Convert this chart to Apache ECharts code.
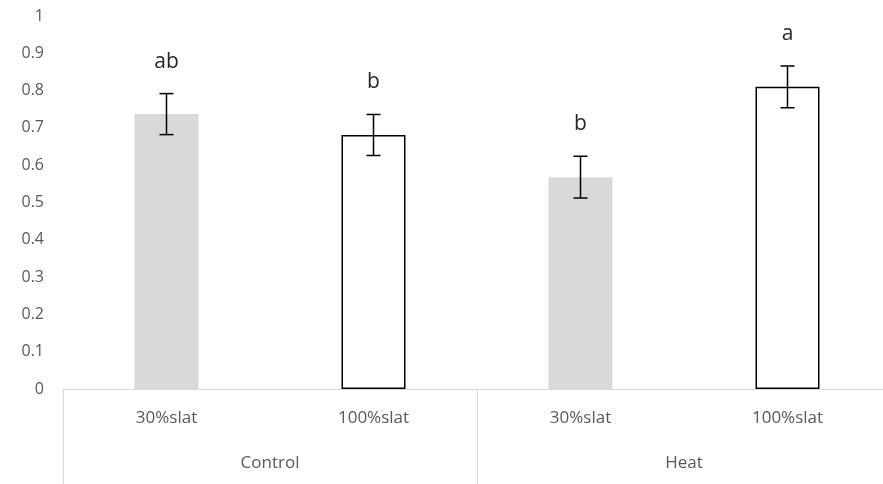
<!DOCTYPE html>
<html>
<head>
<meta charset="utf-8">
<script src="https://cdn.jsdelivr.net/npm/echarts@6/dist/echarts.min.js"></script>
<style>html,body{margin:0;padding:0;background:#fff;}#c{width:883px;height:484px;}</style>
</head>
<body>
<div id="c"></div>
<script>
const categories = ['30%slat', '100%slat', '30%slat', '100%slat'];
const groups = ['Control', 'Heat'];
const means = [0.737, 0.681, 0.568, 0.810];
const errors = [0.055, 0.055, 0.056, 0.056];
const letters = ['ab', 'b', 'b', 'a'];
const yTicks = [0, 0.1, 0.2, 0.3, 0.4, 0.5, 0.6, 0.7, 0.8, 0.9, 1];

const fillColors = ['#d9d9d9', '#ffffff', '#d9d9d9', '#ffffff'];
const borderColors = ['#d9d9d9', '#000000', '#d9d9d9', '#000000'];
const font = '"Open Sans", "Noto Sans", sans-serif';

const chart = echarts.init(document.getElementById('c'));
chart.setOption({
  animation: false,
  grid: { left: 63, right: -8, top: 16, bottom: 95, outerBoundsMode: 'none', containLabel: false },
  xAxis: [
    {
      type: 'category', data: categories, position: 'bottom',
      axisLine: { show: true, lineStyle: { color: '#d9d9d9', width: 1 } },
      axisTick: { show: false },
      axisLabel: { color: '#595959', fontSize: 17, margin: 21, fontFamily: font }
    },
    {
      type: 'category', data: groups, position: 'bottom',
      axisLine: { show: false },
      axisTick: { show: true, length: 96, lineStyle: { color: '#d9d9d9', width: 1 } },
      axisLabel: { color: '#595959', fontSize: 17, margin: 66, fontFamily: font }
    }
  ],
  yAxis: {
    type: 'value', min: 0, max: 1, interval: 0.1,
    axisLine: { show: false }, axisTick: { show: false },
    splitLine: { show: false },
    axisLabel: {
      color: '#595959', fontSize: 16, margin: 19, fontFamily: font,
      formatter: v => { const t = yTicks.find(x => Math.abs(x - v) < 1e-9); return t === undefined ? '' : String(t); }
    }
  },
  series: [
    {
      type: 'bar', xAxisIndex: 0, barWidth: 64,
      data: means.map((m, i) => ({
        value: m,
        itemStyle: { color: fillColors[i], borderColor: borderColors[i], borderWidth: i % 2 ? 1.5 : 0 }
      }))
    },
    {
      type: 'custom', xAxisIndex: 0, z: 10,
      data: means.map((m, i) => [i, m, errors[i]]),
      renderItem: (params, api) => {
        const i = api.value(0), m = api.value(1), e = api.value(2);
        const top = api.coord([i, m + e]);
        const bot = api.coord([i, m - e]);
        const x = top[0];
        const cap = 7;
        const st = { stroke: '#000', lineWidth: 1.5 };
        return {
          type: 'group',
          children: [
            { type: 'line', shape: { x1: x, y1: top[1], x2: x, y2: bot[1] }, style: st },
            { type: 'line', shape: { x1: x - cap, y1: top[1], x2: x + cap, y2: top[1] }, style: st },
            { type: 'line', shape: { x1: x - cap, y1: bot[1], x2: x + cap, y2: bot[1] }, style: st },
            { type: 'text', style: { text: letters[params.dataIndex], x: x, y: top[1] - 32, align: 'center', verticalAlign: 'middle', fill: '#262626', fontSize: 21, fontFamily: font } }
          ]
        };
      }
    }
  ]
});
</script>
</body>
</html>
